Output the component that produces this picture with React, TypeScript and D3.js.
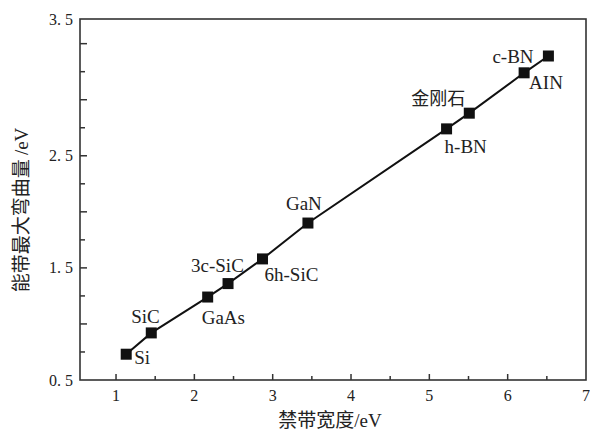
import React from "react";
import * as d3 from "d3";

const materials = ["Si", "SiC", "GaAs", "3c-SiC", "6h-SiC", "GaN", "h-BN", "金刚石", "AIN", "c-BN"];
const bandGap = [1.13, 1.45, 2.17, 2.43, 2.87, 3.45, 5.22, 5.51, 6.21, 6.52];
const maxBending = [0.73, 0.92, 1.24, 1.36, 1.58, 1.9, 2.74, 2.88, 3.24, 3.39];
// label offsets (dx, dy) relative to marker, text anchor start
const labelDx = [8, -20, -6, -37, 2, -22, -2, -58, 5, -56];
const labelDy = [10, -10, 27, -12, 22, -13, 24, -8, 16, 7];

const xTickLabels = ["1", "2", "3", "4", "5", "6", "7"];
const xTickValues = [1, 2, 3, 4, 5, 6, 7];
const yTickLabels = ["0. 5", "1. 5", "2. 5", "3. 5"];
const yTickValues = [0.5, 1.5, 2.5, 3.72];

const W = 590;
const H = 432;
const left = 80, right = 586, top = 19, bottom = 380;

export default function App() {
  const x = d3.scaleLinear().domain([0.54, 7]).range([left, right]);
  const y = d3.scaleLinear().domain([0.5, 3.72]).range([bottom, top]);
  const pts: [number, number][] = bandGap.map((g, i) => [g, maxBending[i]]);
  const line = d3.line<[number, number]>().x((d) => x(d[0])).y((d) => y(d[1]));

  const xMinor = d3.range(1, 7, 0.5);
  const yMinor = d3.range(0.75, 3.6, 0.25);
  const serif = "'Liberation Serif', 'DejaVu Serif', serif";
  const cjk = "'Noto Sans CJK SC', sans-serif";
  const col = "#222";

  return (
    <svg width={W} height={H} style={{ position: "absolute", left: 0, top: 0, background: "#fff" }}>
      <rect x={left} y={top} width={right - left} height={bottom - top} fill="none" stroke="#333" strokeWidth={1.6} />
      {xMinor.map((v) => {
        const major = Math.abs(v - Math.round(v)) < 1e-6;
        return <line key={"xt" + v} x1={x(v)} x2={x(v)} y1={bottom} y2={bottom - (major ? 6 : 4)} stroke="#333" strokeWidth={1.5} />;
      })}
      {yMinor.map((v) => {
        const major = Math.abs(v * 2 - Math.round(v * 2)) < 1e-6;
        return <line key={"yt" + v} x1={left} x2={left + (major ? 7 : 5)} y1={y(v)} y2={y(v)} stroke="#333" strokeWidth={1.5} />;
      })}
      {xTickValues.map((v, i) => (
        <text key={"xl" + i} x={x(v)} y={401} textAnchor="middle" fontFamily={serif} fontSize={16} fill={col}>
          {xTickLabels[i]}
        </text>
      ))}
      {yTickValues.map((v, i) => (
        <text key={"yl" + i} x={73} y={y(v)} dy="0.35em" textAnchor="end" fontFamily={serif} fontSize={16} fill={col}>
          {yTickLabels[i]}
        </text>
      ))}
      <path d={line(pts) || ""} fill="none" stroke="#111" strokeWidth={2} />
      {pts.map((p, i) => (
        <rect key={"m" + i} x={x(p[0]) - 5.5} y={y(p[1]) - 5.5} width={11} height={11} fill="#111" />
      ))}
      {pts.map((p, i) => (
        <text
          key={"t" + i}
          x={x(p[0]) + labelDx[i]}
          y={y(p[1]) + labelDy[i]}
          fontFamily={materials[i] === "金刚石" ? cjk : serif}
          fontSize={materials[i] === "金刚石" ? 18 : 19}
          fill={col}
        >
          {materials[i]}
        </text>
      ))}
      <text x={330} y={427} textAnchor="middle" fontSize={19} fill={col}>
        <tspan fontFamily={cjk}>禁带宽度</tspan>
        <tspan fontFamily={serif}>/eV</tspan>
      </text>
      <text transform="translate(28,210) rotate(-90)" textAnchor="middle" fontSize={19} fill={col}>
        <tspan fontFamily={cjk}>能带最大弯曲量 </tspan>
        <tspan fontFamily={serif}>/eV</tspan>
      </text>
    </svg>
  );
}
